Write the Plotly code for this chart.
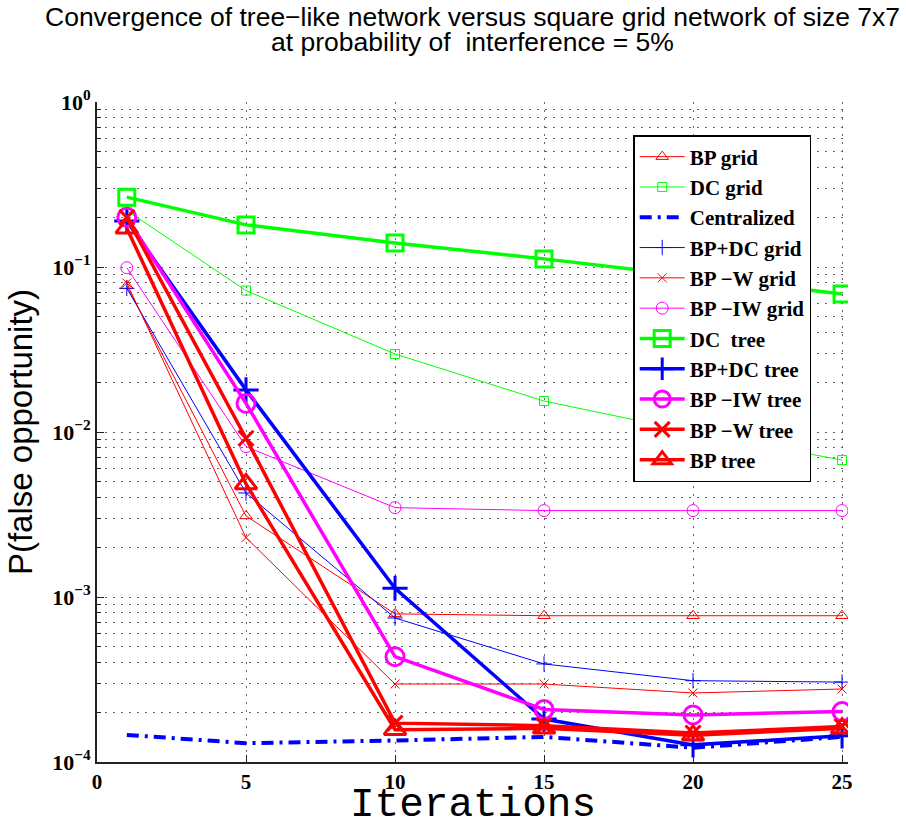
import plotly.graph_objects as go

iterations = [1, 5, 10, 15, 20, 25]

bp_grid = [0.077, 0.0031, 7.9e-4, 7.7e-4, 7.7e-4, 7.7e-4]
dc_grid = [0.22, 0.072, 0.0297, 0.0154, 0.0100, 0.00676]
centralized = [1.46e-4, 1.30e-4, 1.35e-4, 1.42e-4, 1.22e-4, 1.42e-4]
bpdc_grid = [0.0743, 0.00427, 7.46e-4, 3.93e-4, 3.11e-4, 3.05e-4]
bpw_grid = [0.08, 0.00229, 2.97e-4, 2.97e-4, 2.62e-4, 2.77e-4]
bpiw_grid = [0.099, 0.00815, 0.00348, 0.00334, 0.00334, 0.00334]
dc_tree = [0.265, 0.18, 0.14, 0.112, 0.088, 0.0686]
bpdc_tree = [0.19, 0.018, 1.13e-3, 1.82e-4, 1.27e-4, 1.44e-4]
bpiw_tree = [0.2, 0.0149, 4.35e-4, 2.08e-4, 1.93e-4, 2.02e-4]
bpw_tree = [0.2, 0.00916, 1.72e-4, 1.66e-4, 1.50e-4, 1.64e-4]
bp_tree = [0.172, 0.00484, 1.57e-4, 1.60e-4, 1.45e-4, 1.60e-4]

title_lines = ["Convergence of tree−like network versus square grid network of size 7x7",
               "at probability of  interference = 5%"]
y_tickvals = [1e-4, 1e-3, 1e-2, 1e-1, 1]
y_ticktext = ["10<sup>−4</sup>", "10<sup>−3</sup>", "10<sup>−2</sup>",
              "10<sup>−1</sup>", "10<sup>0</sup>"]
y_minorvals = [m * d for d in (1e-4, 1e-3, 1e-2, 1e-1) for m in range(2, 10)]
x_tickvals = [0, 5, 10, 15, 20, 25]

RED, GREEN, BLUE, MAG = "#FF0000", "#00FF00", "#0000FF", "#FF00FF"

series = [
    ("BP grid", bp_grid, RED, 1, "triangle-up-open", 11, 1, "solid"),
    ("DC grid", dc_grid, GREEN, 1, "square-open", 9, 1, "solid"),
    ("Centralized", centralized, BLUE, 4, None, 0, 0, "12px,6px,3px,6px"),
    ("BP+DC grid", bpdc_grid, BLUE, 1, "cross-thin-open", 11, 1, "solid"),
    ("BP −W grid", bpw_grid, RED, 1, "x-thin-open", 9, 1, "solid"),
    ("BP −IW grid", bpiw_grid, MAG, 1, "circle-open", 12, 1, "solid"),
    ("DC  tree", dc_tree, GREEN, 3.5, "square-open", 16, 3, "solid"),
    ("BP+DC tree", bpdc_tree, BLUE, 3.5, "cross-thin-open", 18, 3, "solid"),
    ("BP −IW tree", bpiw_tree, MAG, 3.5, "circle-open", 18, 3, "solid"),
    ("BP −W tree", bpw_tree, RED, 3.5, "x-thin-open", 15, 3, "solid"),
    ("BP tree", bp_tree, RED, 3.5, "triangle-up-open", 19, 3, "solid"),
]

fig = go.Figure()
for i, (name, vals, color, lw, sym, ms, mlw, dash) in enumerate(series):
    kw = dict(x=iterations, y=vals, name=name,
              line=dict(color=color, width=lw, dash=dash))
    if sym:
        kw["mode"] = "lines+markers"
        kw["marker"] = dict(symbol=sym, size=ms, color=color,
                            line=dict(color=color, width=mlw))
    else:
        kw["mode"] = "lines"
    fig.add_trace(go.Scatter(**kw))

GRIDC = "#666666"
GRIDD = "2px,6px"
TFONT = dict(family="Liberation Sans, Arial", size=26.5, color="black")

fig.update_layout(
    width=906, height=827,
    margin=dict(l=97, r=58, t=102, b=65),
    paper_bgcolor="white", plot_bgcolor="white",
    legend=dict(x=0.714, y=0.95, xanchor="left", yanchor="top",
                bgcolor="white", bordercolor="black", borderwidth=1.5,
                font=dict(family="Liberation Serif, Times New Roman, serif", size=21, color="black", weight="bold"),
                tracegroupgap=0, itemwidth=45),
    showlegend=True,
    annotations=[
        dict(text=title_lines[0], xref="paper", yref="paper", x=0.5, y=1, yshift=85,
             xanchor="center", yanchor="middle", showarrow=False, font=TFONT),
        dict(text=title_lines[1], xref="paper", yref="paper", x=0.5, y=1, yshift=60,
             xanchor="center", yanchor="middle", showarrow=False, font=TFONT),
        dict(text="Iterations", xref="paper", yref="paper", x=0.5, y=0, yshift=-43,
             xanchor="center", yanchor="middle", showarrow=False,
             font=dict(family="Liberation Mono, Courier New, monospace", size=41, color="black")),
    ],
)

fig.update_xaxes(
    range=[0, 25.2], tickvals=x_tickvals, ticktext=[str(v) for v in x_tickvals],
    tickfont=dict(family="Liberation Serif, Times New Roman, serif", size=21, color="black", weight="bold"),
    showline=True, linecolor="#222", linewidth=2, mirror=False,
    ticks="inside", ticklen=7, tickcolor="#222",
    showgrid=True, gridcolor=GRIDC, griddash=GRIDD, gridwidth=1, zeroline=False,
)
fig.update_yaxes(
    type="log", range=[-4, 0], tickmode="array", tickvals=y_tickvals, ticktext=y_ticktext,
    tickfont=dict(family="Liberation Serif, Times New Roman, serif", size=22, color="black", weight="bold"),
    showline=True, linecolor="#222", linewidth=2, mirror=False,
    ticks="inside", ticklen=7, tickcolor="#222",
    showgrid=True, gridcolor=GRIDC, griddash=GRIDD, gridwidth=1, zeroline=False,
    minor=dict(tickmode="array", tickvals=y_minorvals, ticks="inside", ticklen=4, tickcolor="#222",
               showgrid=True, gridcolor=GRIDC, griddash=GRIDD, gridwidth=1),
    title=dict(text="P(false opportunity)", font=dict(family="Liberation Sans, Arial", size=33, color="black"), standoff=10),
)

fig.write_html("out.html")
